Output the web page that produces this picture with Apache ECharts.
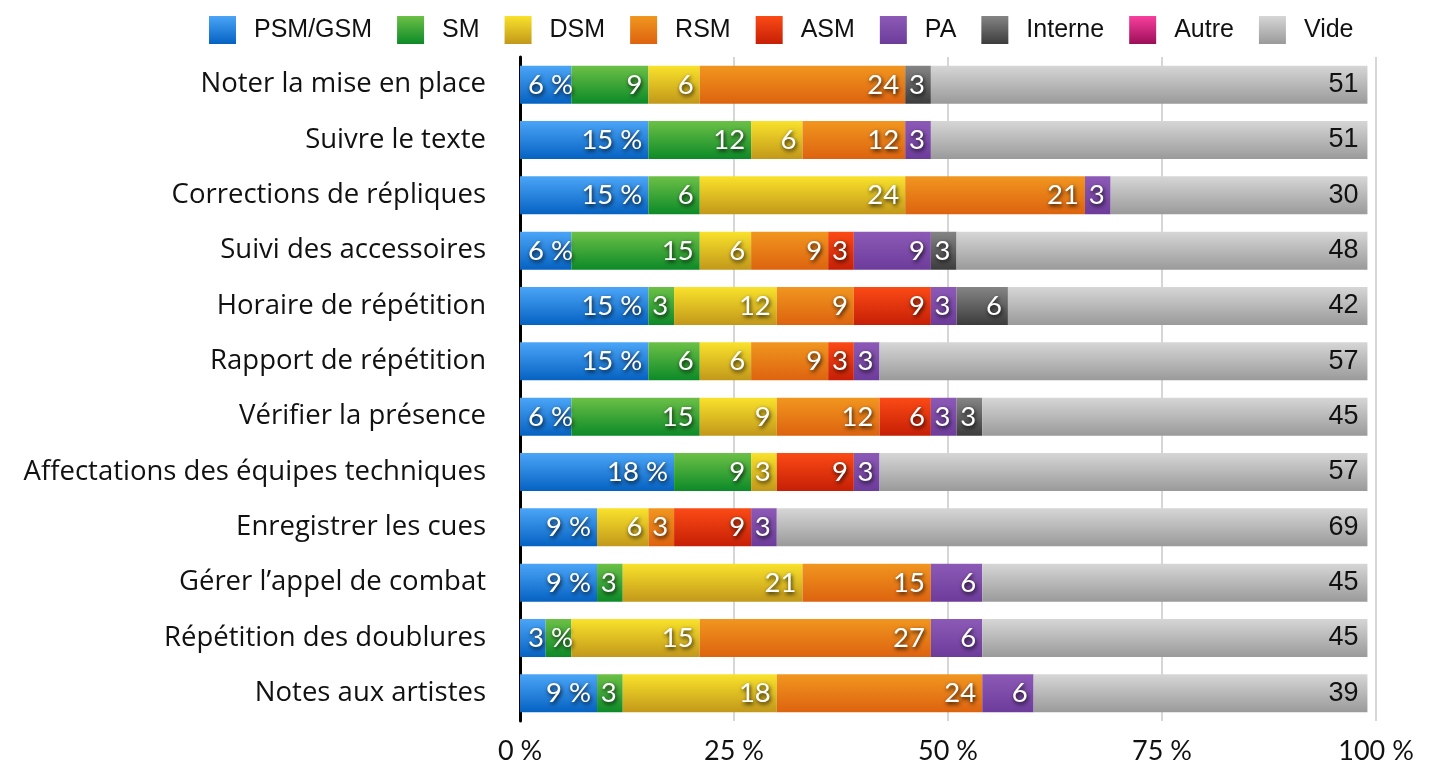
<!DOCTYPE html>
<html>
<head>
<meta charset="utf-8">
<title>Répartition des tâches</title>
<script src="https://cdn.jsdelivr.net/npm/echarts@6/dist/echarts.min.js"></script>
<style>
  html, body { margin: 0; padding: 0; background: #ffffff; }
  #chart { width: 1433px; height: 768px; }
</style>
</head>
<body>
<div id="chart"></div>
<script>
// Tasks, listed top to bottom
const categories = [
  'Noter la mise en place',
  'Suivre le texte',
  'Corrections de répliques',
  'Suivi des accessoires',
  'Horaire de répétition',
  'Rapport de répétition',
  'Vérifier la présence',
  'Affectations des équipes techniques',
  'Enregistrer les cues',
  'Gérer l\u2019appel de combat',
  'Répétition des doublures',
  'Notes aux artistes'
];

const seriesNames = ['PSM/GSM', 'SM', 'DSM', 'RSM', 'ASM', 'PA', 'Interne', 'Autre', 'Vide'];

// Share of responses (%) per role, one value per task
const psm     = [6, 15, 15, 6, 15, 15, 6, 18, 9, 9, 3, 9];
const sm      = [9, 12, 6, 15, 3, 6, 15, 9, 0, 3, 3, 3];
const dsm     = [6, 6, 24, 6, 12, 6, 9, 3, 6, 21, 15, 18];
const rsm     = [24, 12, 21, 9, 9, 9, 12, 0, 3, 15, 27, 24];
const asm     = [0, 0, 0, 3, 9, 3, 6, 9, 9, 0, 0, 0];
const pa      = [0, 3, 3, 9, 3, 3, 3, 3, 3, 6, 6, 6];
const interne = [3, 0, 0, 3, 6, 0, 3, 0, 0, 0, 0, 0];
const autre   = [0, 0, 0, 0, 0, 0, 0, 0, 0, 0, 0, 0];
const vide    = [51, 51, 30, 48, 42, 57, 45, 57, 69, 45, 45, 39];

const xTicks = [0, 25, 50, 75, 100];

// Labels that sit under a neighbouring label and are left out
const hiddenLabels = [['SM', 'Répétition des doublures']];

const values = [psm, sm, dsm, rsm, asm, pa, interne, autre, vide];

// Top / bottom colours of each bar gradient
const palette = [
  ['#4ba5f7', '#0562c2'],
  ['#6cc046', '#0c8a28'],
  ['#f9e22b', '#c2981a'],
  ['#f1961f', '#dd630f'],
  ['#fb4a15', '#c61f06'],
  ['#8c5ab6', '#6d3b9a'],
  ['#858585', '#3c3c3c'],
  ['#f83f9e', '#9c0f58'],
  ['#d6d6d6', '#9a9a9a']
];

function grad(c) {
  return new echarts.graphic.LinearGradient(0, 0, 0, 1, [
    { offset: 0, color: c[0] },
    { offset: 1, color: c[1] }
  ]);
}

const whiteLabel = {
  color: '#ffffff',
  fontFamily: 'Lato',
  fontSize: 27.5,
  textShadowColor: 'rgba(0,0,0,0.9)',
  textShadowBlur: 4,
  textShadowOffsetX: 1,
  textShadowOffsetY: 2
};

const series = seriesNames.map(function (name, si) {
  const isVide = name === 'Vide';
  const isFirst = si === 0;
  const data = values[si].map(function (v, ci) {
    const hidden = hiddenLabels.some(function (h) { return h[0] === name && h[1] === categories[ci]; });
    const item = { value: v };
    if (v === 0 || hidden) {
      item.label = { show: false };
    } else if (isFirst && v <= 6) {
      // narrow first segment: text starts from the bar's left edge
      item.label = { position: 'insideLeft', distance: 8 };
    }
    return item;
  });
  return {
    name: name,
    type: 'bar',
    stack: 'total',
    barWidth: 38,
    itemStyle: { color: grad(palette[si]) },
    label: isVide ? {
      show: true,
      position: 'insideRight',
      distance: 9,
      color: '#111111',
      fontFamily: 'Liberation Sans',
      fontSize: 27
    } : Object.assign({
      show: true,
      position: 'insideRight',
      distance: 6,
      formatter: isFirst ? function (p) { return p.value + ' %'; } : '{c}'
    }, whiteLabel),
    emphasis: { disabled: true },
    data: data
  };
});

const chart = echarts.init(document.getElementById('chart'), null, { renderer: 'canvas' });

chart.setOption({
  backgroundColor: '#ffffff',
  animation: false,
  legend: {
    data: seriesNames,
    top: 11,
    left: 204,
    icon: 'rect',
    itemWidth: 27,
    itemHeight: 28,
    itemGap: 25,
    textStyle: {
      color: '#111111',
      fontFamily: 'Liberation Sans',
      fontSize: 25,
      padding: [0, 0, 0, 13]
    }
  },
  grid: {
    left: 520,
    right: 57,
    top: 57,
    bottom: 47,
    containLabel: false
  },
  xAxis: {
    type: 'value',
    min: xTicks[0],
    max: xTicks[xTicks.length - 1],
    interval: 25,
    axisLine: { show: false },
    axisTick: { show: false },
    splitLine: { show: true, lineStyle: { color: '#c9c9c9', width: 1.5 } },
    axisLabel: {
      color: '#111111',
      fontFamily: 'Lato',
      fontSize: 27,
      margin: 17,
      formatter: function (v) { return v + ' %'; }
    }
  },
  yAxis: {
    type: 'category',
    inverse: true,
    data: categories,
    axisTick: { show: false },
    axisLine: { show: true, lineStyle: { color: '#000000', width: 3 } },
    axisLabel: {
      color: '#111111',
      fontFamily: 'Open Sans',
      fontSize: 27.5,
      margin: 34
    }
  },
  series: series
});
</script>
</body>
</html>
